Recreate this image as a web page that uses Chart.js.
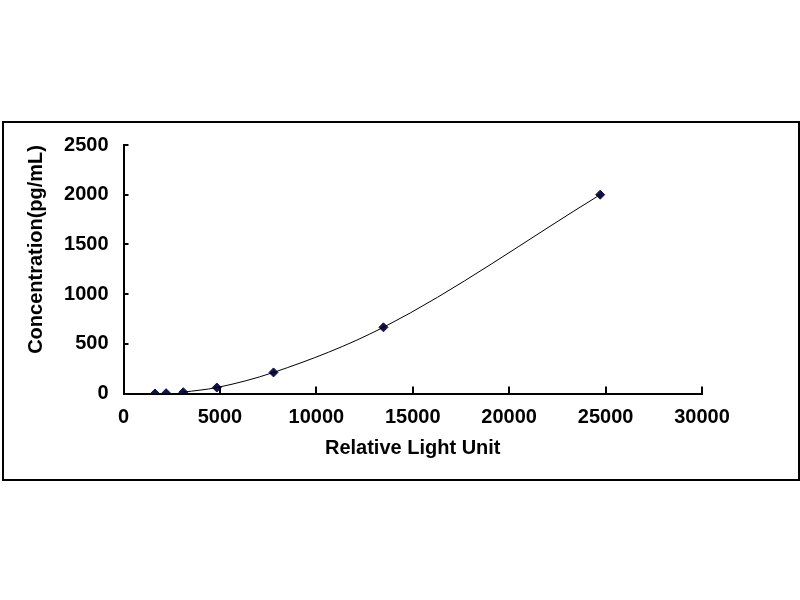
<!DOCTYPE html>
<html>
<head>
<meta charset="utf-8">
<script src="https://cdn.jsdelivr.net/npm/chart.js@4"></script>
<style>
  html, body { margin: 0; padding: 0; background: #fff; }
  #wrap { position: relative; width: 800px; height: 600px; }
  #frame { position: absolute; left: 2px; top: 121px; width: 794px; height: 356px; border: 2px solid #000; }
  #myChart { position: absolute; left: 0; top: 0; }
</style>
</head>
<body>
<div id="wrap">
  <div id="frame"></div>
  <canvas id="myChart" width="800" height="600"></canvas>
</div>
<script>
// standard curve readings
const rlu = [1630, 2210, 3100, 4840, 7780, 13480, 24720];
const conc = [0, 3, 13, 60, 212, 666, 2000];
const xTicks = [0, 5000, 10000, 15000, 20000, 25000, 30000];
const yTicks = [0, 500, 1000, 1500, 2000, 2500];

const points = rlu.map((x, i) => ({ x: x, y: conc[i] }));
// fitted line drawn through the standards from the third one on
const curve = points.slice(2);

const font = { family: "'Liberation Sans', Arial, sans-serif", size: 20, weight: 'bold' };

// short tick marks pointing into the plot
const innerTicks = {
  id: 'innerTicks',
  afterDraw(chart) {
    const ctx = chart.ctx;
    const xs = chart.scales.x;
    const ys = chart.scales.y;
    ctx.save();
    ctx.strokeStyle = '#000';
    ctx.lineWidth = 2;
    ctx.beginPath();
    xTicks.forEach(v => {
      const px = Math.round(xs.getPixelForValue(v));
      ctx.moveTo(px, ys.bottom);
      ctx.lineTo(px, ys.bottom - 7);
    });
    yTicks.forEach(v => {
      const py = Math.round(ys.getPixelForValue(v));
      ctx.moveTo(xs.left, py);
      ctx.lineTo(xs.left + 5, py);
    });
    ctx.stroke();
    ctx.restore();
  }
};

const ctx = document.getElementById('myChart').getContext('2d');
const myChart = new Chart(ctx, {
  type: 'scatter',
  data: {
    datasets: [
      {
        label: 'curve',
        data: curve,
        showLine: true,
        borderColor: '#000',
        borderWidth: 1,
        pointRadius: 0,
        cubicInterpolationMode: 'monotone',
        fill: false
      },
      {
        label: 'standards',
        data: points,
        pointStyle: 'rectRot',
        pointRadius: 4.5,
        backgroundColor: '#12124a',
        borderColor: '#12124a',
        borderWidth: 1
      }
    ]
  },
  options: {
    responsive: false,
    animation: false,
    layout: { padding: { left: 0, top: 145, right: 98, bottom: 0 } },
    plugins: {
      legend: { display: false },
      tooltip: { enabled: false }
    },
    scales: {
      x: {
        type: 'linear',
        min: 0,
        max: 30000,
        afterBuildTicks: s => { s.ticks = xTicks.map(v => ({ value: v })); },
        afterFit: s => { s.height = 206.5; },
        grid: { display: false, drawTicks: false },
        border: { color: '#000', width: 2 },
        ticks: { color: '#000', font: font, padding: 12, maxRotation: 0, callback: v => String(v) },
        title: {
          display: true,
          text: 'Relative Light Unit',
          color: '#000',
          font: font,
          padding: { top: 0, bottom: 140 }
        }
      },
      y: {
        type: 'linear',
        min: 0,
        max: 2500,
        afterBuildTicks: s => { s.ticks = yTicks.map(v => ({ value: v })); },
        afterFit: s => { s.width = 123.5; },
        grid: { display: false, drawTicks: false },
        border: { color: '#000', width: 2 },
        ticks: { color: '#000', font: font, padding: 15, callback: v => String(v) },
        title: {
          display: true,
          text: 'Concentration(pg/mL)',
          color: '#000',
          font: font,
          align: 'end',
          padding: { top: 24, bottom: 0 }
        }
      }
    }
  },
  plugins: [innerTicks]
});
</script>
</body>
</html>
